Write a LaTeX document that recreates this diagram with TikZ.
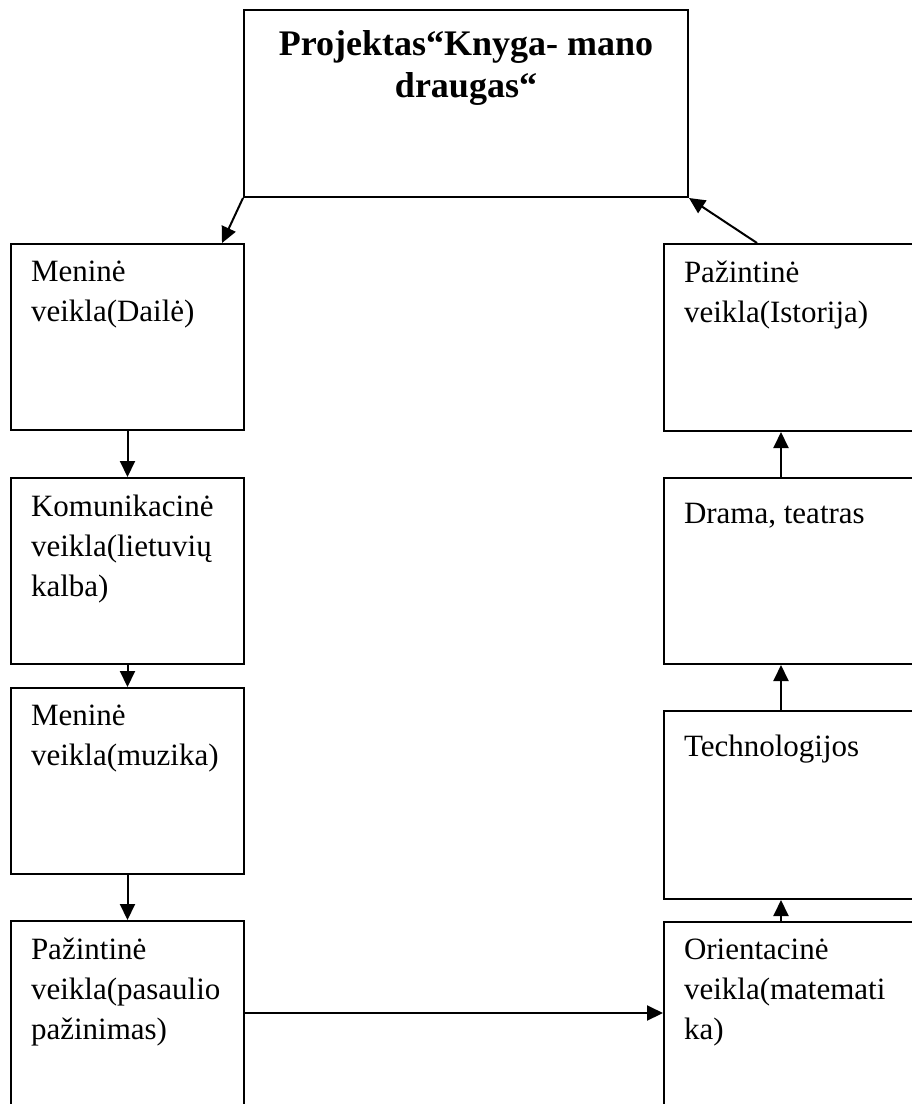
\documentclass[tikz,border=0pt]{standalone}
\usepackage{fontspec}
\setmainfont{Liberation Serif}
\usetikzlibrary{arrows.meta, positioning, calc}

\begin{document}
\begin{tikzpicture}[x=1pt, y=-1pt, >={Triangle[length=16pt,width=15pt]}, line width=2pt,
  box/.style={draw, rectangle, inner sep=0pt, anchor=north west, minimum width=233pt},
  rbox/.style={box, minimum width=300pt},
  txt/.style={anchor=north west, inner sep=0pt, align=left, font=\fontsize{31}{40}\selectfont, execute at begin node=\strut}]
\useasboundingbox (0,0) rectangle (912,1104);
\fill[white] (0,0) rectangle (912,1104);
\clip (0,0) rectangle (912,1104);
% boxes
\node[box, minimum width=444pt, minimum height=187pt] (proj) at (243,9) {};
\node[box, minimum height=186pt] (lart) at (10,243) {};
\node[box, minimum height=186pt] (lcom) at (10,477) {};
\node[box, minimum height=186pt] (lmus) at (10,687) {};
\node[box, minimum height=250pt] (lworld) at (10,920) {};
\node[rbox, minimum height=187pt] (rhist) at (663,243) {};
\node[rbox, minimum height=186pt] (rdrama) at (663,477) {};
\node[rbox, minimum height=188pt] (rtech) at (663,710) {};
\node[rbox, minimum height=250pt] (rmath) at (663,921) {};
% texts
\node[anchor=north, inner sep=0pt, align=center, font=\fontsize{36}{42}\selectfont\bfseries, execute at begin node=\strut] (tproj) at ([yshift=-21pt]proj.north) {Projektas“Knyga- mano\\draugas“};
\node[txt] (tart) at ([shift={(20pt,-17pt)}]lart.north west) {Meninė\\veikla(Dailė)};
\node[txt] (tcom) at ([shift={(20pt,-17pt)}]lcom.north west) {Komunikacinė\\veikla(lietuvių\\kalba)};
\node[txt] (tmus) at ([shift={(20pt,-17pt)}]lmus.north west) {Meninė\\veikla(muzika)};
\node[txt] (tworld) at ([shift={(20pt,-17pt)}]lworld.north west) {Pažintinė\\veikla(pasaulio\\pažinimas)};
\node[txt] (thist) at ([shift={(20pt,-17pt)}]rhist.north west) {Pažintinė\\veikla(Istorija)};
\node[txt] (tdrama) at ([shift={(20pt,-17pt)}]rdrama.north west) {Drama, teatras};
\node[txt] (ttech) at ([shift={(20pt,-17pt)}]rtech.north west) {Technologijos};
\node[txt] (tmath) at ([shift={(20pt,-17pt)}]rmath.north west) {Orientacinė\\veikla(matemati\\ka)};
% arrows
\coordinate (rx) at (781,0);
\coordinate (hy) at (0,1013);
\draw[->] (proj.south west) -- ([xshift=-23pt]lart.north east);
\draw[->] (lart) -- (lcom);
\draw[->] (lcom) -- (lmus);
\draw[->] (lmus) -- (lworld);
\draw[->] (lworld.east |- hy) -- (rmath.west |- hy);
\draw[->] (rmath.north -| rx) -- (rtech.south -| rx);
\draw[->] (rtech.north -| rx) -- (rdrama.south -| rx);
\draw[->] (rdrama.north -| rx) -- (rhist.south -| rx);
\draw[->] ([xshift=94pt]rhist.north west) -- (proj.south east);
\end{tikzpicture}
\end{document}
